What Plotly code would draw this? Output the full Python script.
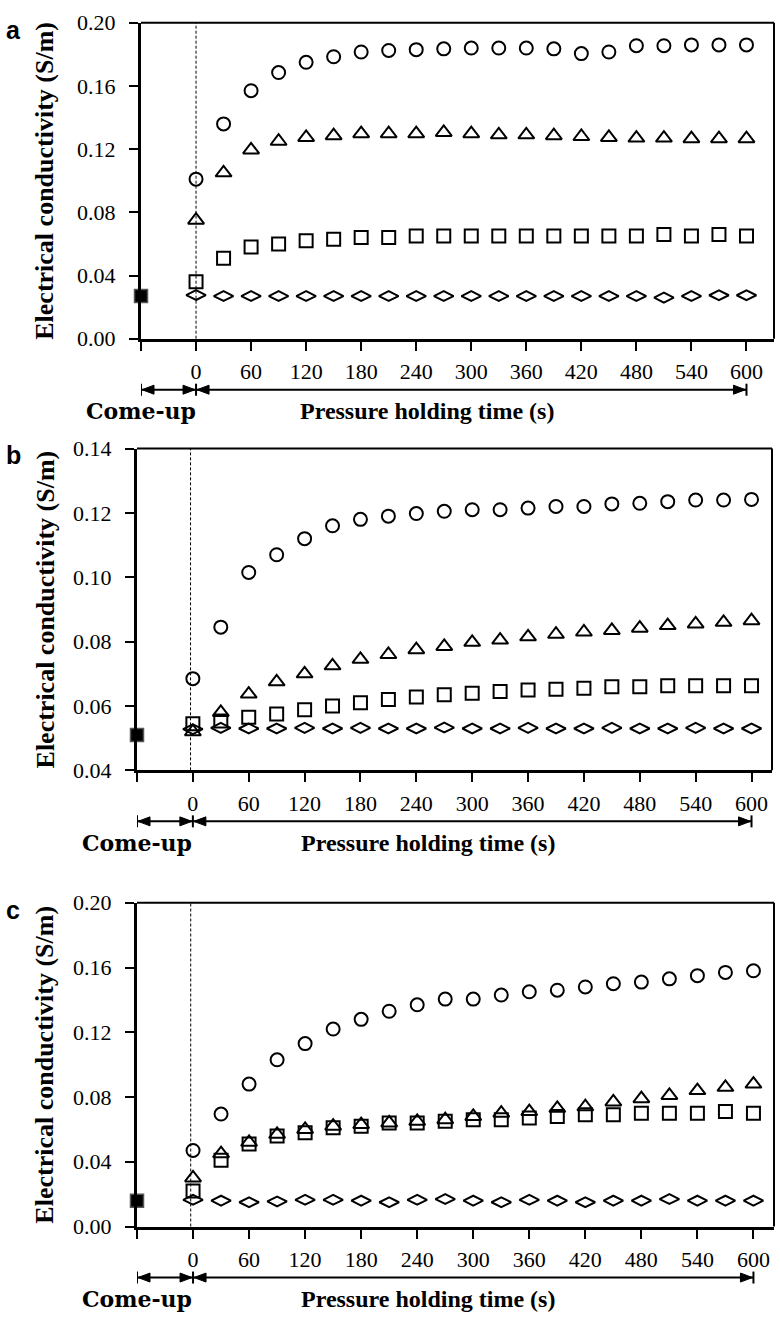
import plotly.graph_objects as go

W, H = 780, 1319

# Sampling times during pressure holding (s) and the come-up position
times = list(range(0, 601, 30))
come_up_time = -60
x_tick_vals = [-60] + list(range(0, 601, 60))
x_tick_text = [""] + [str(t) for t in range(0, 601, 60)]

# Panel a
a_circle = [0.101, 0.136, 0.157, 0.1685, 0.175, 0.1785, 0.1815, 0.1825, 0.183, 0.1835, 0.184,
            0.184, 0.184, 0.1835, 0.1805, 0.1815, 0.1855, 0.1855, 0.186, 0.186, 0.186]
a_triangle = [0.075, 0.105, 0.1195, 0.125, 0.1274, 0.1285, 0.1298, 0.1298, 0.1298, 0.1306, 0.1298,
              0.1291, 0.1291, 0.1285, 0.128, 0.1274, 0.127, 0.127, 0.1266, 0.1266, 0.1266]
a_square = [0.036, 0.051, 0.058, 0.060, 0.062, 0.063, 0.064, 0.064, 0.065, 0.065, 0.065,
            0.065, 0.065, 0.065, 0.065, 0.065, 0.065, 0.066, 0.065, 0.066, 0.065]
a_diamond = [0.0276, 0.027, 0.027, 0.027, 0.027, 0.027, 0.027, 0.027, 0.027, 0.027, 0.027,
             0.027, 0.027, 0.027, 0.027, 0.027, 0.027, 0.026, 0.027, 0.0275, 0.0275]
a_come_up = 0.027

# Panel b
b_circle = [0.0685, 0.0845, 0.1015, 0.107, 0.112, 0.116, 0.118, 0.119, 0.1198, 0.1205, 0.121,
            0.121, 0.1215, 0.122, 0.122, 0.1228, 0.123, 0.1235, 0.124, 0.124, 0.1242]
b_triangle = [0.052, 0.058, 0.0637, 0.0675, 0.070, 0.0725, 0.0745, 0.076, 0.0775, 0.0785, 0.0798,
              0.0805, 0.0815, 0.0823, 0.083, 0.0835, 0.0842, 0.085, 0.0855, 0.086, 0.0865]
b_square = [0.0545, 0.0553, 0.0565, 0.0575, 0.0588, 0.060, 0.061, 0.062, 0.0628, 0.0635, 0.064,
            0.0645, 0.065, 0.0652, 0.0655, 0.066, 0.066, 0.0663, 0.0663, 0.0663, 0.0663]
b_diamond = [0.0528, 0.0532, 0.053, 0.053, 0.0532, 0.053, 0.0532, 0.053, 0.053, 0.0533, 0.053,
             0.053, 0.0532, 0.053, 0.053, 0.0532, 0.053, 0.053, 0.0532, 0.053, 0.053]
b_come_up = 0.051

# Panel c
c_circle = [0.047, 0.0695, 0.088, 0.103, 0.113, 0.122, 0.128, 0.133, 0.137, 0.1405, 0.1405,
            0.143, 0.145, 0.146, 0.148, 0.150, 0.151, 0.153, 0.155, 0.157, 0.158]
c_triangle = [0.030, 0.045, 0.052, 0.057, 0.060, 0.062, 0.063, 0.064, 0.065, 0.066, 0.068,
              0.070, 0.071, 0.073, 0.074, 0.077, 0.079, 0.081, 0.084, 0.086, 0.088]
c_square = [0.022, 0.041, 0.051, 0.056, 0.058, 0.061, 0.062, 0.064, 0.064, 0.065, 0.066,
            0.066, 0.067, 0.068, 0.069, 0.069, 0.070, 0.070, 0.070, 0.071, 0.070]
c_diamond = [0.0165, 0.016, 0.015, 0.0155, 0.0165, 0.0165, 0.016, 0.015, 0.0165, 0.017, 0.016,
             0.015, 0.0165, 0.016, 0.015, 0.016, 0.016, 0.017, 0.016, 0.016, 0.016]
c_come_up = 0.016

y_title = "Electrical conductivity (S/m)"
come_up_label = "Come-up"
holding_label = "Pressure holding time (s)"

# Pixel layout of each panel: left, right, top, bottom edges of the plotting box
panels = [
    dict(letter="a", box=(141, 774, 11, 333), xr=[-60, 630], yr=[0.0, 0.20], dtick=0.04,
         dash_x=0, series=(a_diamond, a_square, a_triangle, a_circle), come_up=a_come_up),
    dict(letter="b", box=(137, 772, 445, 773), xr=[-60, 622], yr=[0.04, 0.14], dtick=0.02,
         dash_x=-2.5, series=(b_diamond, b_square, b_triangle, b_circle), come_up=b_come_up),
    dict(letter="c", box=(137, 774, 908, 1238), xr=[-60, 622], yr=[0.0, 0.20], dtick=0.04,
         dash_x=-2.5, series=(c_diamond, c_square, c_triangle, c_circle), come_up=c_come_up),
]

symbols = ["diamond-wide-open", "square-open", "triangle-up-open", "circle-open"]
sizes = [14, 13, 14, 13]

SERIF = "Liberation Serif"
fig = go.Figure()
shapes = []
annotations = []


def py(p):
    return 1 - p / H


for i, p in enumerate(panels):
    n = "" if i == 0 else str(i + 1)
    xa, ya = "x" + n, "y" + n
    left, right, top, bottom = p["box"]

    for vals, sym, sz in zip(p["series"], symbols, sizes):
        fig.add_trace(go.Scatter(
            x=times, y=vals, mode="markers", xaxis=xa, yaxis=ya, showlegend=False,
            marker=dict(symbol=sym, size=sz, color="black", line=dict(width=2, color="black")),
        ))
    fig.add_trace(go.Scatter(
        x=[come_up_time], y=[p["come_up"]], mode="markers", xaxis=xa, yaxis=ya,
        showlegend=False, cliponaxis=False,
        marker=dict(symbol="square", size=13, color="black", line=dict(width=1.5, color="#555")),
    ))

    common = dict(showgrid=False, zeroline=False, showline=True, linecolor="black", linewidth=3,
                  ticks="outside", ticklen=9, tickwidth=2, tickcolor="black",
                  tickfont=dict(family=SERIF, size=22, color="black"))
    fig.layout["xaxis" + n] = dict(
        domain=[left / W, right / W], range=p["xr"], anchor=ya,
        tickmode="array", tickvals=x_tick_vals, ticktext=x_tick_text,
        ticklabelstandoff=2, **common)
    fig.layout["yaxis" + n] = dict(
        domain=[py(bottom), py(top)], range=p["yr"], anchor=xa,
        tickmode="linear", tick0=p["yr"][0], dtick=p["dtick"], tickformat=".2f",
        ticklabelstandoff=9, **common)

    # thin top and right border of the box
    shapes.append(dict(type="line", xref=xa + " domain", yref=ya + " domain",
                       x0=0, x1=1, y0=1, y1=1, line=dict(color="black", width=2)))
    shapes.append(dict(type="line", xref=xa + " domain", yref=ya + " domain",
                       x0=1, x1=1, y0=0, y1=1, line=dict(color="black", width=2)))
    # dashed marker at the start of pressure holding
    shapes.append(dict(type="line", xref=xa, yref=ya + " domain", x0=p["dash_x"], x1=p["dash_x"],
                       y0=0, y1=1, line=dict(color="black", width=1, dash="3px,2px")))

    # double arrows for the come-up and holding periods
    arrow_y = py(bottom + 52)
    for x0, x1 in [(come_up_time, 0), (0, times[-1])]:
        shapes.append(dict(type="line", xref=xa, yref="paper", x0=x0, x1=x1,
                           y0=arrow_y, y1=arrow_y, line=dict(color="black", width=2)))
    for xv in [come_up_time, 0, times[-1]]:
        shapes.append(dict(type="line", xref=xa, yref="paper", ysizemode="pixel",
                           yanchor=arrow_y, x0=xv, x1=xv, y0=-6, y1=6,
                           line=dict(color="black", width=2)))
    heads = [(come_up_time, "M1,0 L13,-4.5 L13,4.5 Z"), (0, "M-1,0 L-13,-4.5 L-13,4.5 Z"),
             (0, "M1,0 L13,-4.5 L13,4.5 Z"), (times[-1], "M-1,0 L-13,-4.5 L-13,4.5 Z")]
    for xv, path in heads:
        shapes.append(dict(type="path", xref=xa, yref="paper", xsizemode="pixel",
                           ysizemode="pixel", xanchor=xv, yanchor=arrow_y, path=path,
                           fillcolor="black", line=dict(color="black", width=1)))

    label_y = py(bottom + 74)
    annotations.append(dict(text=come_up_label, xref=xa, yref="paper", x=come_up_time, y=label_y,
                            showarrow=False, xanchor="center", yanchor="middle",
                            font=dict(family="DejaVu Serif", size=22, color="black", weight="bold")))
    annotations.append(dict(text=holding_label, xref=xa, yref="paper", x=252, y=label_y,
                            showarrow=False, xanchor="center", yanchor="middle",
                            font=dict(family=SERIF, size=24, color="black", weight="bold")))
    annotations.append(dict(text=y_title, xref="paper", yref="paper", x=45 / W,
                            y=py((top + bottom) / 2), textangle=-90, showarrow=False,
                            xanchor="center", yanchor="middle",
                            font=dict(family=SERIF, size=26, color="black", weight="bold")))
    annotations.append(dict(text=p["letter"], xref="paper", yref="paper", x=13 / W,
                            y=py(top + 7), showarrow=False, xanchor="center", yanchor="middle",
                            font=dict(family="Liberation Sans", size=25, color="black",
                                      weight="bold")))

fig.update_layout(
    width=W, height=H, margin=dict(l=0, r=0, t=0, b=0),
    paper_bgcolor="white", plot_bgcolor="white",
    shapes=shapes, annotations=annotations, showlegend=False,
)

fig.write_html("out.html")
